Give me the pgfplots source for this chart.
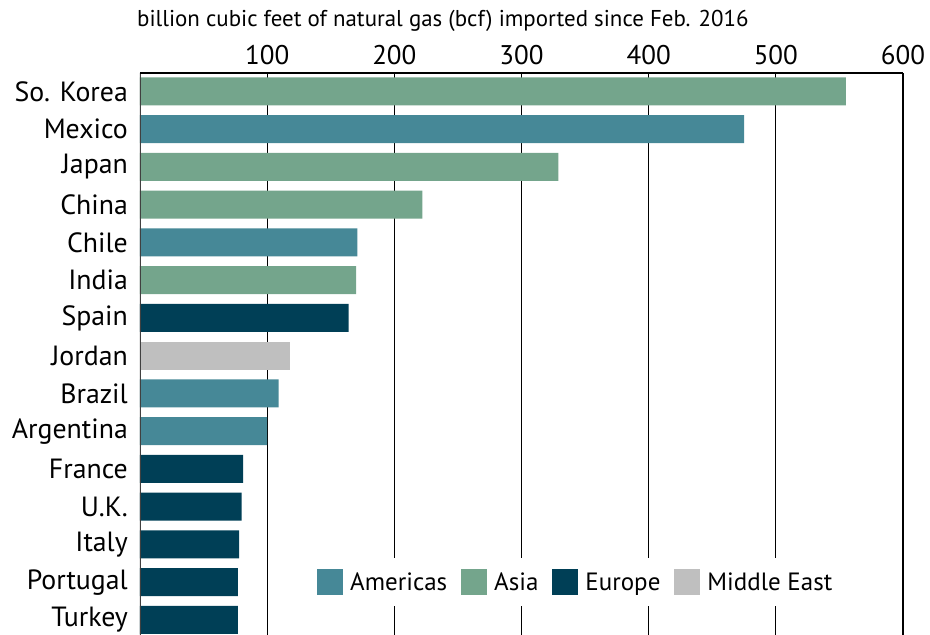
\documentclass[border=0pt]{standalone}
\usepackage{pgfplots}
\pgfplotsset{compat=1.18}
\usepackage{fontspec}
\setmainfont{PT Sans}
\definecolor{americas}{HTML}{468897}
\definecolor{asia}{HTML}{74A58C}
\definecolor{europe}{HTML}{003F56}
\definecolor{mideast}{HTML}{BFBFBF}
\begin{document}
\begin{tikzpicture}
\path[use as bounding box] (0,0) rectangle (930pt,635pt);
\begin{axis}[
 at={(140pt,0pt)}, anchor=south west,
 width=763pt, height=562pt, scale only axis,
 xmin=0, xmax=600, ymin=-0.4, ymax=14.49,
 xbar, bar width=0.742, bar shift=0pt,
 axis line style={draw=none},
 xtick={100,200,...,600},
 xticklabel pos=upper,
 xmajorgrids, major grid style={black, line width=1.3pt},
 major tick length=0pt,
 ytick={0,...,14},
 yticklabels={Turkey,Portugal,Italy,U.K.,France,Argentina,Brazil,Jordan,Spain,India,Chile,China,Japan,Mexico,So. Korea},
 tick label style={font=\fontsize{27}{32}\selectfont},
 yticklabel style={font=\fontsize{27.8}{32}\selectfont},
 /pgf/number format/assume math mode=true,
 xticklabel style={anchor=south, inner sep=0pt, yshift=8pt},
 yticklabel style={anchor=east, inner sep=0pt, xshift=-12pt},
 legend columns=4,
 legend style={draw=none, fill=white, inner xsep=5pt, inner ysep=11pt,
   at={(0.2254,0.0943)}, anchor=west,
   font=\fontsize{25}{28}\selectfont,
   /tikz/every even column/.append style={column sep=12pt},
   /tikz/every odd column/.append style={column sep=5pt}},
 legend image code/.code={\fill[#1,draw=none] (0pt,-13pt) rectangle (26pt,13pt);},
]
\addplot[fill=americas, draw=none] coordinates {(475,13) (171,10) (109,6) (100,5)};
\addplot[fill=asia, draw=none] coordinates {(555,14) (329,12) (222,11) (170,9)};
\addplot[fill=europe, draw=none] coordinates {(164,8) (81,4) (80,3) (78,2) (77,1) (77,0)};
\addplot[fill=mideast, draw=none] coordinates {(118,7)};
\legend{Americas, Asia, Europe, Middle East}
\draw[black!75, line width=1.7pt] (rel axis cs:0,0) -- (rel axis cs:0,1);
\draw[black, line width=1.5pt] (rel axis cs:0,1) -- (rel axis cs:1,1);
\end{axis}
\node[anchor=base west, inner sep=0pt, font=\fontsize{22.9}{26}\selectfont] at (137pt,608pt) {billion cubic feet of natural gas (bcf) imported since Feb. 2016};
\end{tikzpicture}
\end{document}
